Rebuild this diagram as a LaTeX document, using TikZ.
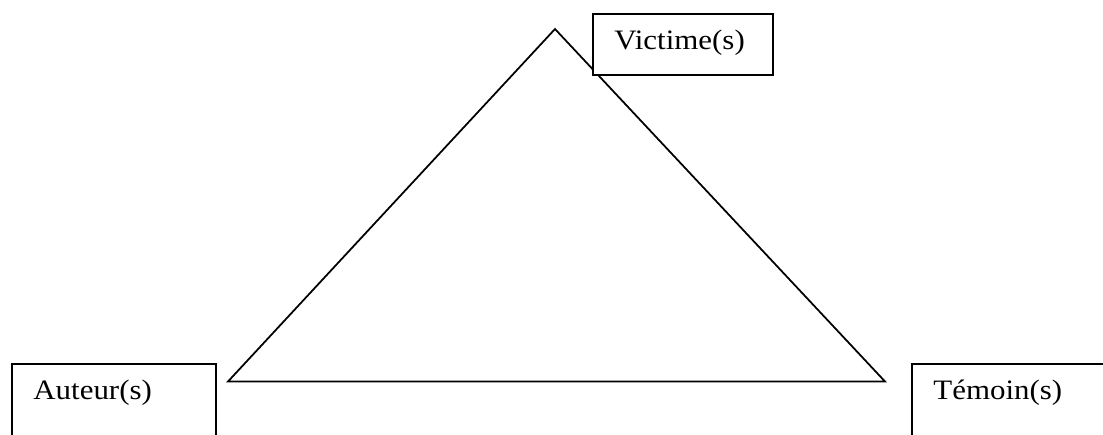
\documentclass[tikz,border=0pt]{standalone}
\usepackage{fontspec}
\setmainfont{Liberation Serif}[FakeStretch=1.1]
\begin{document}
\begin{tikzpicture}[
        role/.style={rectangle, draw, fill=white, line width=1pt, anchor=north west,
          inner xsep=0.43cm, inner ysep=0pt, align=left, text height=0.72cm},
        side/.style={line width=1pt},
        every node/.style={font=\fontsize{16}{19}\selectfont}
      ]
      \useasboundingbox (0,0) rectangle (22.06,-8.68);
      \clip (0,0) rectangle (22.06,-8.68);
      \coordinate (top) at (11.10,-0.58);
      \coordinate (left) at (4.56,-7.63);
      \coordinate (right) at (17.70,-7.63);
      \draw[side] (top) -- (left) -- (right) -- cycle;
      \node[role, text width=2.74cm, text depth=0.5cm] (victime) at (11.84,-0.26) {Victime(s)};
      \node[role, text width=3.22cm, text depth=1.6cm] (auteur) at (0.22,-7.26) {Auteur(s)};
      \node[role, text width=3.6cm, text depth=1.6cm] (temoin) at (18.22,-7.26) {Témoin(s)};
    \end{tikzpicture}
\end{document}
